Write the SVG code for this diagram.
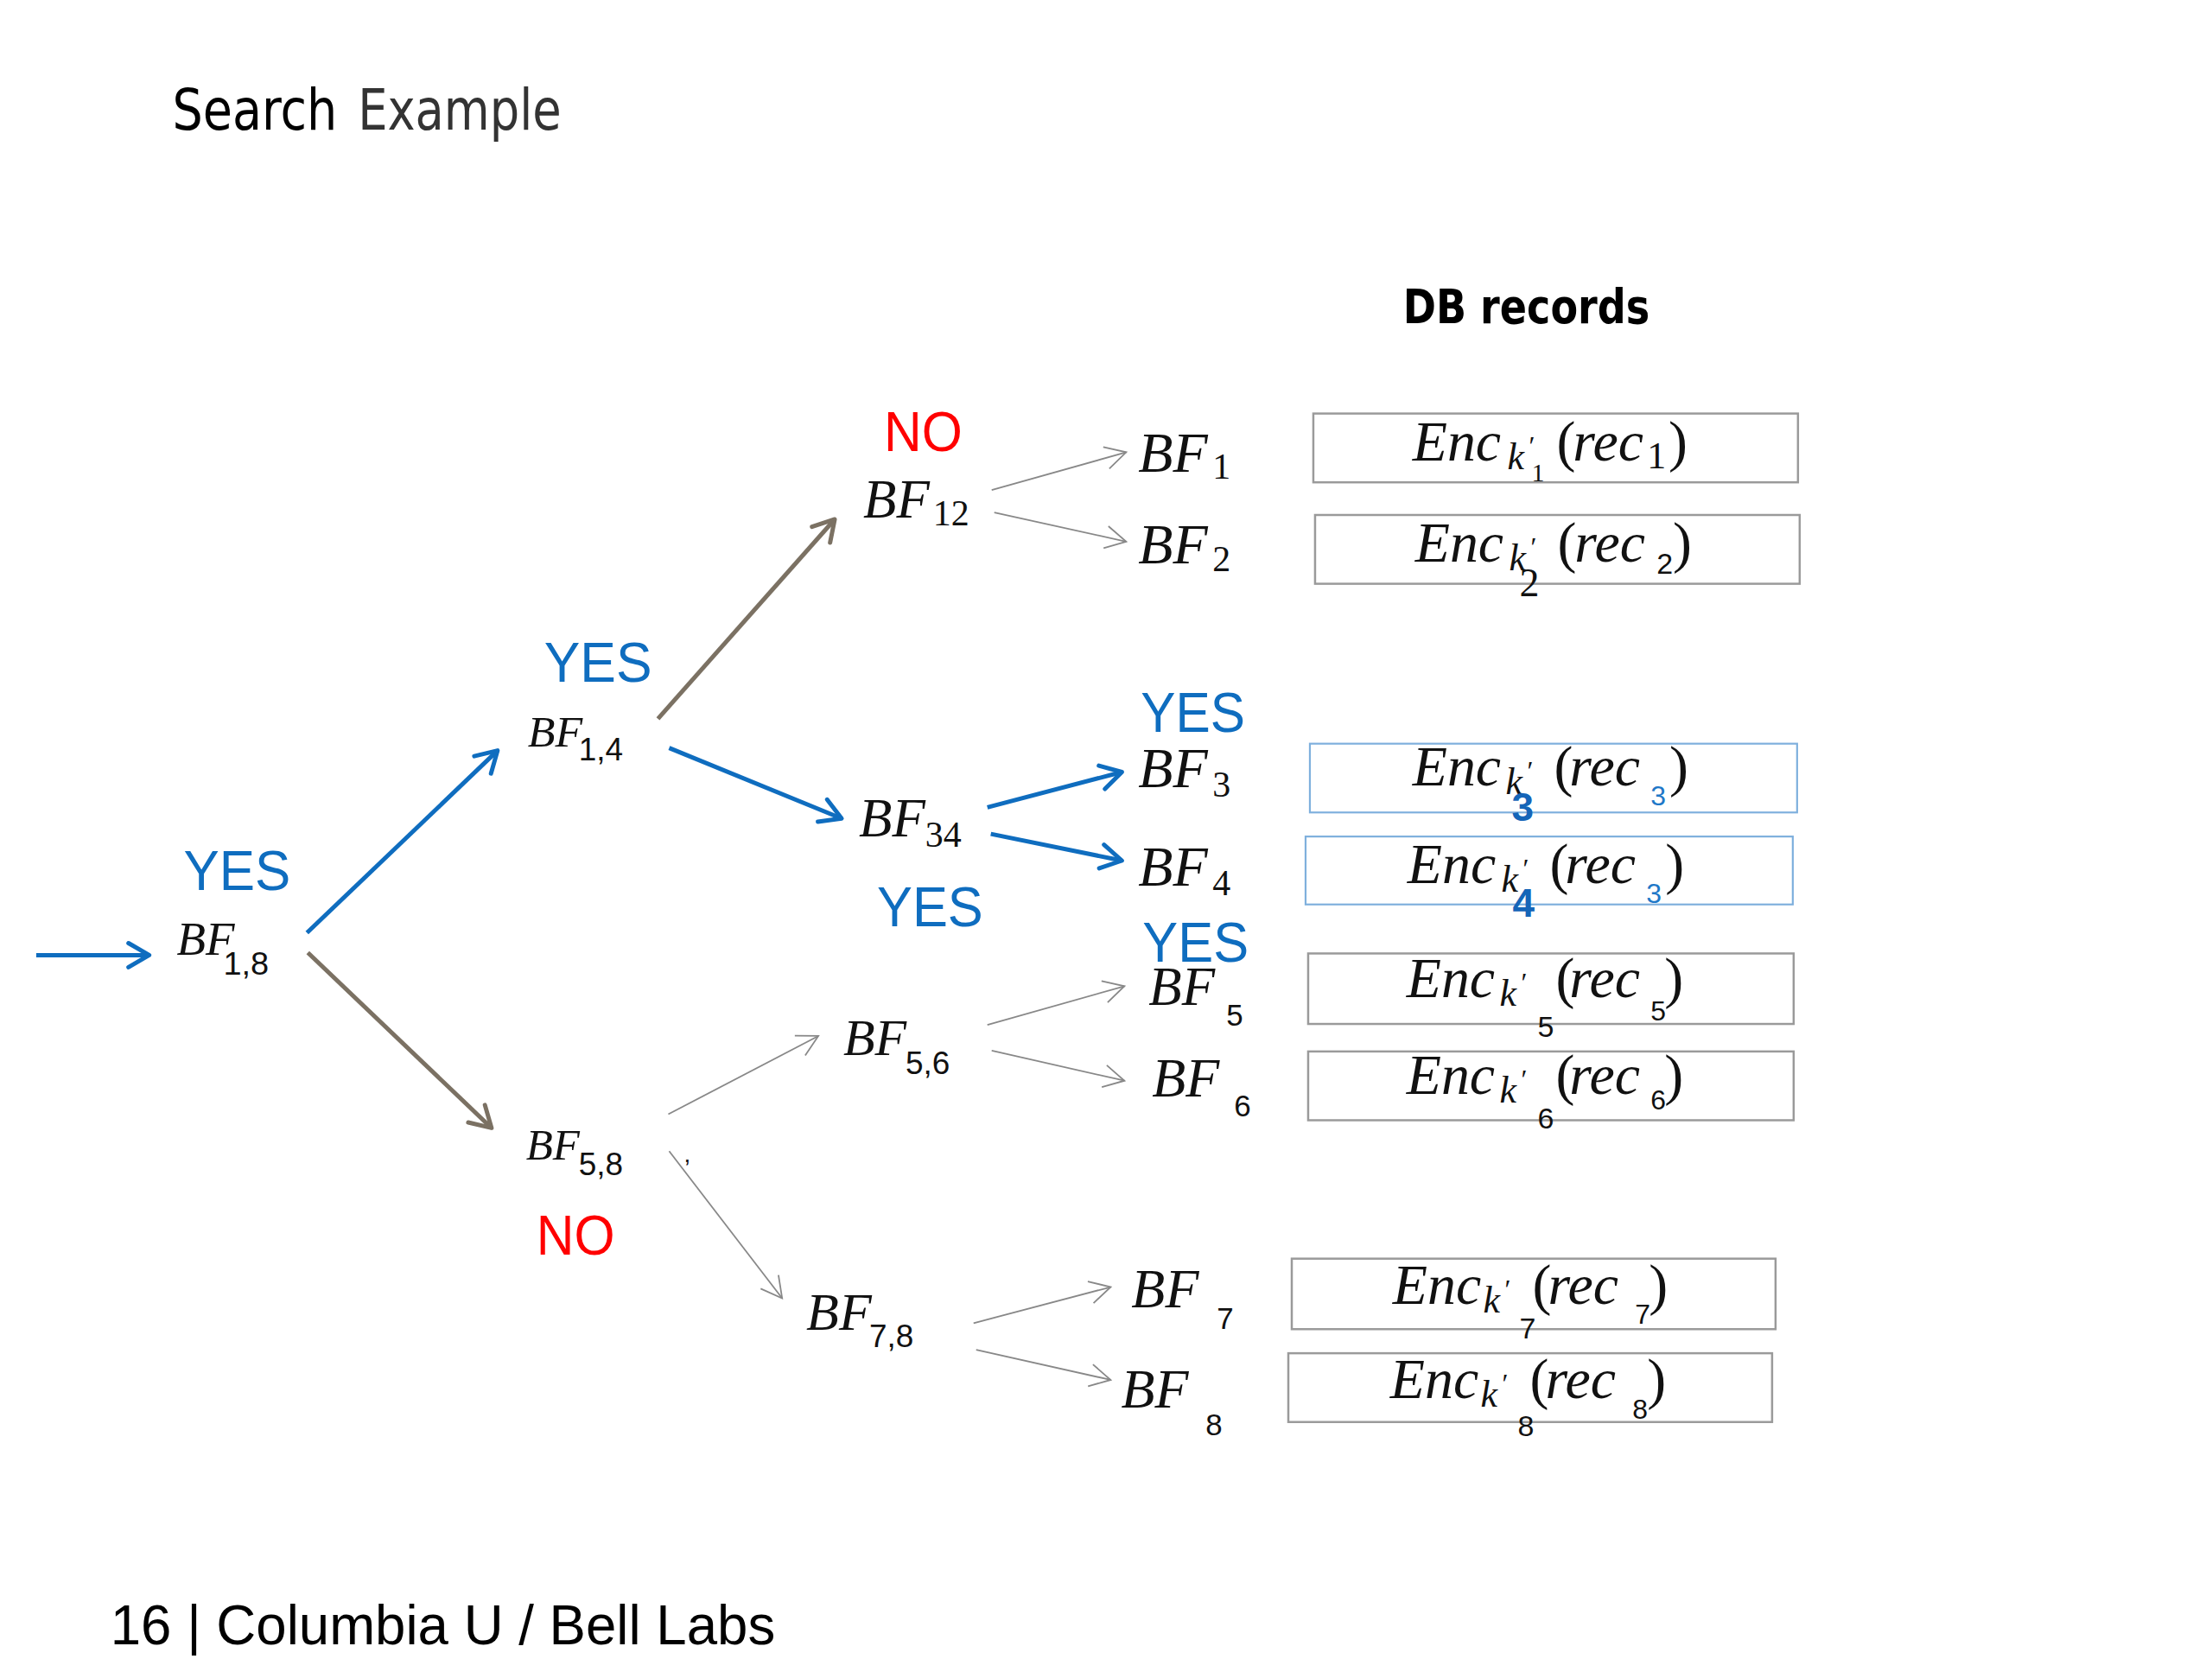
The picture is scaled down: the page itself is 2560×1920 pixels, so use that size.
<svg xmlns="http://www.w3.org/2000/svg" width="2560" height="1920" viewBox="0 0 2560 1920">
<style>
.bf{font-family:"Liberation Serif","Times New Roman",serif;font-style:italic;fill:#111}
.rm{font-family:"Liberation Serif","Times New Roman",serif;fill:#111}
.ss{font-family:"Liberation Sans",Arial,sans-serif;fill:#111}
.yes{font-family:"Liberation Sans",Arial,sans-serif;font-size:65px;fill:#0F6DBF}
.no{font-family:"Liberation Sans",Arial,sans-serif;font-size:65px;fill:#FF0000}
.box{fill:#fff;stroke:#9a9a9a;stroke-width:2.5}
.boxb{fill:#fff;stroke:#7FB0DD;stroke-width:2.2}
.blue{stroke:#0F6DBF;stroke-width:5;fill:none}
.brown{stroke:#7B7163;stroke-width:5;fill:none}
.thin{stroke:#888;stroke-width:1.8;fill:none}
.it{font-style:italic}
.bb{font-family:"Liberation Sans",Arial,sans-serif;font-weight:bold;font-style:normal;fill:#1565B8}
.bs{font-family:"Liberation Sans",Arial,sans-serif;font-style:normal;fill:#1E78C8}
.sn{font-family:"Liberation Sans",Arial,sans-serif;font-style:normal}
</style>
<defs>
<marker id="mBlue" markerUnits="userSpaceOnUse" viewBox="-30 -20 40 40" markerWidth="40" markerHeight="40" refX="0" refY="0" orient="auto" overflow="visible">
<path d="M-24,-14 L0,0 L-24,14" fill="none" stroke="#0F6DBF" stroke-width="5" stroke-linecap="round" stroke-linejoin="round"/>
</marker>
<marker id="mBrown" markerUnits="userSpaceOnUse" viewBox="-30 -20 40 40" markerWidth="40" markerHeight="40" refX="0" refY="0" orient="auto" overflow="visible">
<path d="M-24,-14 L0,0 L-24,14" fill="none" stroke="#7B7163" stroke-width="5" stroke-linecap="round" stroke-linejoin="round"/>
</marker>
<marker id="mGray" markerUnits="userSpaceOnUse" viewBox="-30 -20 40 40" markerWidth="40" markerHeight="40" refX="0" refY="0" orient="auto" overflow="visible">
<path d="M-24,-13 L0,0 L-24,13" fill="none" stroke="#888" stroke-width="1.8"/>
</marker>
</defs>
<rect width="2560" height="1920" fill="#fff"/>
<g transform="scale(0.998 0.995)">

<g id="title">
<text x="200" y="151" font-family="DejaVu Sans, sans-serif" font-stretch="condensed" font-size="67" fill="#000" textLength="191" lengthAdjust="spacingAndGlyphs">Search</text>
<text x="415" y="151" font-family="DejaVu Sans, sans-serif" font-stretch="condensed" font-size="67" fill="#333" textLength="236" lengthAdjust="spacingAndGlyphs">Example</text>
</g>
<g id="db-header">
<text x="1627" y="376" font-family="DejaVu Sans, sans-serif" font-stretch="condensed" font-weight="bold" font-size="56" fill="#000" textLength="286" lengthAdjust="spacingAndGlyphs">DB records</text>
</g>

<g id="connectors">
<path class="blue" d="M42 1111 L173 1111" marker-end="url(#mBlue)"/>
<path class="blue" d="M356 1085 L577 873" marker-end="url(#mBlue)"/>
<path class="blue" d="M776 870 L976 952" marker-end="url(#mBlue)"/>
<path class="blue" d="M1145 939 L1301 898" marker-end="url(#mBlue)"/>
<path class="blue" d="M1149 970 L1301 1001" marker-end="url(#mBlue)"/>
<path class="brown" d="M357 1108 L570 1312" marker-end="url(#mBrown)"/>
<path class="brown" d="M763 836 L968 604" marker-end="url(#mBrown)"/>
<path class="thin" d="M1150 570 L1306 526" marker-end="url(#mGray)"/>
<path class="thin" d="M1153 596 L1306 630" marker-end="url(#mGray)"/>
<path class="thin" d="M775 1296 L949 1205" marker-end="url(#mGray)"/>
<path class="thin" d="M776 1339 L907 1510" marker-end="url(#mGray)"/>
<path class="thin" d="M1145 1192 L1304 1147" marker-end="url(#mGray)"/>
<path class="thin" d="M1150 1222 L1304 1257" marker-end="url(#mGray)"/>
<path class="thin" d="M1129 1539 L1288 1497" marker-end="url(#mGray)"/>
<path class="thin" d="M1132 1570 L1288 1605" marker-end="url(#mGray)"/>
</g>

<g id="labels">
<text class="yes" x="213" y="1035" textLength="124" lengthAdjust="spacingAndGlyphs">YES</text>
<text class="yes" x="631" y="793" textLength="125" lengthAdjust="spacingAndGlyphs">YES</text>
<text class="yes" x="1323" y="851" textLength="121" lengthAdjust="spacingAndGlyphs">YES</text>
<text class="yes" x="1017" y="1077" textLength="123" lengthAdjust="spacingAndGlyphs">YES</text>
<text class="yes" x="1325" y="1119" textLength="123" lengthAdjust="spacingAndGlyphs">YES</text>
<text class="no" x="1025" y="525" textLength="91" lengthAdjust="spacingAndGlyphs">NO</text>
<text class="no" x="622" y="1459" textLength="91" lengthAdjust="spacingAndGlyphs">NO</text>
<text class="ss" x="793" y="1352" font-size="28">,</text>
</g>

<g id="BF18"><text class="bf" x="205" y="1111" font-size="55">BF</text><text class="ss" x="259" y="1134" font-size="38">1,8</text></g>
<g id="BF14"><text class="bf" x="612" y="868" font-size="52">BF</text><text class="ss" x="671" y="884" font-size="37">1,4</text></g>
<g id="BF12"><text class="bf" x="1001" y="602" font-size="63">BF</text><text class="rm" x="1082" y="611" font-size="42">12</text></g>
<g id="BF1"><text class="bf" x="1320" y="549" font-size="66">BF</text><text class="rm" x="1406" y="557" font-size="42">1</text></g>
<g id="BF2"><text class="bf" x="1320" y="655" font-size="66">BF</text><text class="rm" x="1406" y="664" font-size="42">2</text></g>
<g id="BF34"><text class="bf" x="996" y="973" font-size="63">BF</text><text class="rm" x="1073" y="985" font-size="42">34</text></g>
<g id="BF3"><text class="bf" x="1320" y="916" font-size="66">BF</text><text class="rm" x="1406" y="927" font-size="42">3</text></g>
<g id="BF4"><text class="bf" x="1320" y="1030" font-size="66">BF</text><text class="rm" x="1406" y="1041" font-size="42">4</text></g>
<g id="BF56"><text class="bf" x="978" y="1227" font-size="60">BF</text><text class="ss" x="1050" y="1249" font-size="37">5,6</text></g>
<g id="BF58"><text class="bf" x="610" y="1349" font-size="51">BF</text><text class="ss" x="671" y="1367" font-size="37">5,8</text></g>
<g id="BF78"><text class="bf" x="935" y="1547" font-size="62">BF</text><text class="ss" x="1008" y="1567" font-size="37">7,8</text></g>
<g id="BF5"><text class="bf" x="1332" y="1169" font-size="63">BF</text><text class="ss" x="1422" y="1193" font-size="35">5</text></g>
<g id="BF6"><text class="bf" x="1336" y="1275" font-size="64">BF</text><text class="ss" x="1431" y="1298" font-size="35">6</text></g>
<g id="BF7"><text class="bf" x="1312" y="1521" font-size="64">BF</text><text class="ss" x="1411" y="1546" font-size="35">7</text></g>
<g id="BF8"><text class="bf" x="1300" y="1637" font-size="64">BF</text><text class="ss" x="1398" y="1669" font-size="35">8</text></g>

<g id="rec1">
<rect class="box" x="1523" y="481" width="562" height="80"/>
<text class="rm" font-size="66"><tspan class="it" x="1638" y="536">Enc</tspan><tspan class="it" x="1748" y="546" font-size="44">k</tspan><tspan x="1773" y="530" font-size="32">′</tspan><tspan x="1776" y="560" font-size="30">1</tspan><tspan x="1805" y="536">(</tspan><tspan class="it" x="1824" y="536">rec</tspan><tspan x="1910" y="545" font-size="44">1</tspan><tspan x="1935" y="536">)</tspan></text>
</g>
<g id="rec2">
<rect class="box" x="1525" y="599" width="562" height="80"/>
<text class="rm" font-size="66"><tspan class="it" x="1641" y="653">Enc</tspan><tspan class="it" x="1750" y="663" font-size="44">k</tspan><tspan x="1775" y="647" font-size="32">′</tspan><tspan x="1762" y="693" font-size="46">2</tspan><tspan x="1806" y="653">(</tspan><tspan class="it" x="1826" y="653">rec</tspan><tspan class="sn" x="1921" y="667" font-size="34">2</tspan><tspan x="1940" y="653">)</tspan></text>
</g>
<g id="rec3">
<rect class="boxb" x="1519" y="865" width="565" height="80"/>
<text class="rm" font-size="66"><tspan class="it" x="1638" y="914">Enc</tspan><tspan class="it" x="1746" y="924" font-size="44">k</tspan><tspan x="1771" y="908" font-size="32">′</tspan><tspan class="bb" x="1753" y="955" font-size="46">3</tspan><tspan x="1802" y="914">(</tspan><tspan class="it" x="1820" y="914">rec</tspan><tspan class="bs" x="1914" y="937" font-size="32">3</tspan><tspan x="1936" y="914">)</tspan></text>
</g>
<g id="rec4">
<rect class="boxb" x="1514" y="973" width="565" height="79"/>
<text class="rm" font-size="66"><tspan class="it" x="1632" y="1027">Enc</tspan><tspan class="it" x="1741" y="1037" font-size="44">k</tspan><tspan x="1766" y="1021" font-size="32">′</tspan><tspan class="bb" x="1754" y="1066" font-size="46">4</tspan><tspan x="1797" y="1027">(</tspan><tspan class="it" x="1815" y="1027">rec</tspan><tspan class="bs" x="1909" y="1050" font-size="32">3</tspan><tspan x="1931" y="1027">)</tspan></text>
</g>
<g id="rec5">
<rect class="box" x="1517" y="1109" width="563" height="82"/>
<text class="rm" font-size="66"><tspan class="it" x="1631" y="1160">Enc</tspan><tspan class="it" x="1739" y="1170" font-size="44">k</tspan><tspan x="1764" y="1154" font-size="32">′</tspan><tspan class="sn" x="1783" y="1206" font-size="34">5</tspan><tspan x="1804" y="1160">(</tspan><tspan class="it" x="1820" y="1160">rec</tspan><tspan class="sn" x="1914" y="1187" font-size="32">5</tspan><tspan x="1930" y="1160">)</tspan></text>
</g>
<g id="rec6">
<rect class="box" x="1517" y="1223" width="563" height="80"/>
<text class="rm" font-size="66"><tspan class="it" x="1631" y="1272">Enc</tspan><tspan class="it" x="1739" y="1282" font-size="44">k</tspan><tspan x="1764" y="1266" font-size="32">′</tspan><tspan class="sn" x="1783" y="1313" font-size="34">6</tspan><tspan x="1804" y="1272">(</tspan><tspan class="it" x="1820" y="1272">rec</tspan><tspan class="sn" x="1914" y="1290" font-size="32">6</tspan><tspan x="1930" y="1272">)</tspan></text>
</g>
<g id="rec7">
<rect class="box" x="1498" y="1464" width="561" height="82"/>
<text class="rm" font-size="66"><tspan class="it" x="1615" y="1517">Enc</tspan><tspan class="it" x="1720" y="1527" font-size="44">k</tspan><tspan x="1745" y="1511" font-size="32">′</tspan><tspan class="sn" x="1762" y="1557" font-size="34">7</tspan><tspan x="1777" y="1517">(</tspan><tspan class="it" x="1795" y="1517">rec</tspan><tspan class="sn" x="1896" y="1540" font-size="32">7</tspan><tspan x="1912" y="1517">)</tspan></text>
</g>
<g id="rec8">
<rect class="box" x="1494" y="1574" width="561" height="80"/>
<text class="rm" font-size="66"><tspan class="it" x="1612" y="1626">Enc</tspan><tspan class="it" x="1717" y="1636" font-size="44">k</tspan><tspan x="1742" y="1620" font-size="32">′</tspan><tspan class="sn" x="1760" y="1670" font-size="34">8</tspan><tspan x="1774" y="1626">(</tspan><tspan class="it" x="1792" y="1626">rec</tspan><tspan class="sn" x="1893" y="1650" font-size="32">8</tspan><tspan x="1910" y="1626">)</tspan></text>
</g>

<g id="footer">
<text x="128" y="1913" font-family="Liberation Sans, Arial, sans-serif" font-size="66" fill="#000" textLength="771" lengthAdjust="spacingAndGlyphs">16 | Columbia U / Bell Labs</text>
</g>
</g>
</svg>
